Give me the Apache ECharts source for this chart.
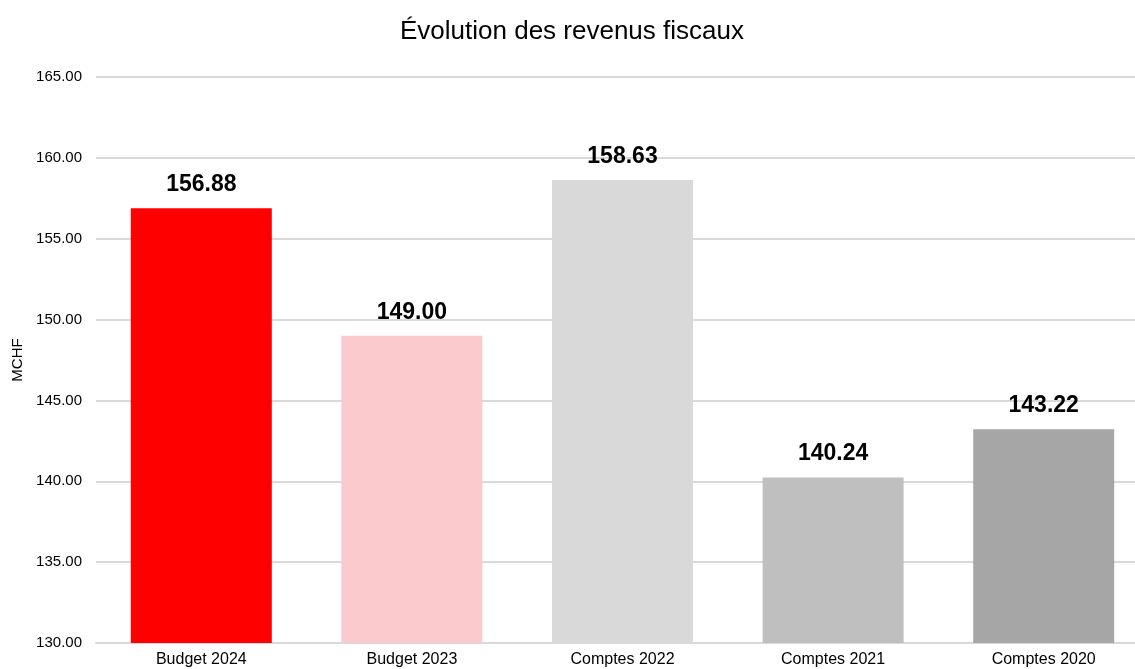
<!DOCTYPE html>
<html><head><meta charset="utf-8">
<script src="https://cdn.jsdelivr.net/npm/echarts@6/dist/echarts.min.js"></script>
<style>html,body{margin:0;padding:0;background:#fff;overflow:hidden;width:1135px;height:669px}#c{width:1149px;height:669px}</style>
</head><body><div id="c"></div>
<script>
const categories = ['Budget 2024', 'Budget 2023', 'Comptes 2022', 'Comptes 2021', 'Comptes 2020'];
const values = [156.88, 149.00, 158.63, 140.24, 143.22];
const barColors = ['#FF0000', '#FACACD', '#D9D9D9', '#BFBFBF', '#A6A6A6'];
const titleText = 'Évolution des revenus fiscaux';
const yName = 'MCHF';

const font = '"Liberation Sans", Arial, sans-serif';
const chart = echarts.init(document.getElementById('c'), null, {renderer: 'canvas'});
chart.setOption({
  animation: false,
  backgroundColor: '#fff',
  title: {
    text: titleText, left: 395, top: 14,
    textStyle: {fontFamily: font, fontSize: 26, fontWeight: 'normal', color: '#000'}
  },
  grid: {left: 96, top: 77, right: 0, bottom: 26, containLabel: false},
  xAxis: {
    type: 'category', data: categories,
    axisLine: {show: true, lineStyle: {color: '#D9D9D9', width: 2}},
    axisTick: {show: false},
    axisLabel: {fontFamily: font, fontSize: 16, color: '#000', margin: 9, interval: 0}
  },
  yAxis: {
    type: 'value', min: 130, max: 165, interval: 5,
    name: yName, nameLocation: 'middle', nameGap: 71, nameRotate: 90,
    nameTextStyle: {fontFamily: font, fontSize: 15, color: '#000'},
    axisLine: {show: false}, axisTick: {show: false},
    axisLabel: {fontFamily: font, fontSize: 15, color: '#000', margin: 14,
      formatter: v => v.toFixed(2)},
    splitLine: {lineStyle: {color: '#D9D9D9', width: 2}}
  },
  series: [{
    type: 'bar',
    data: values.map((v, i) => ({value: v, itemStyle: {color: barColors[i]}})),
    barWidth: 141,
    label: {
      show: true, position: 'top', distance: 12,
      fontFamily: font, fontSize: 23, fontWeight: 'bold', color: '#000',
      formatter: p => p.value.toFixed(2)
    }
  }]
});
</script></body></html>
